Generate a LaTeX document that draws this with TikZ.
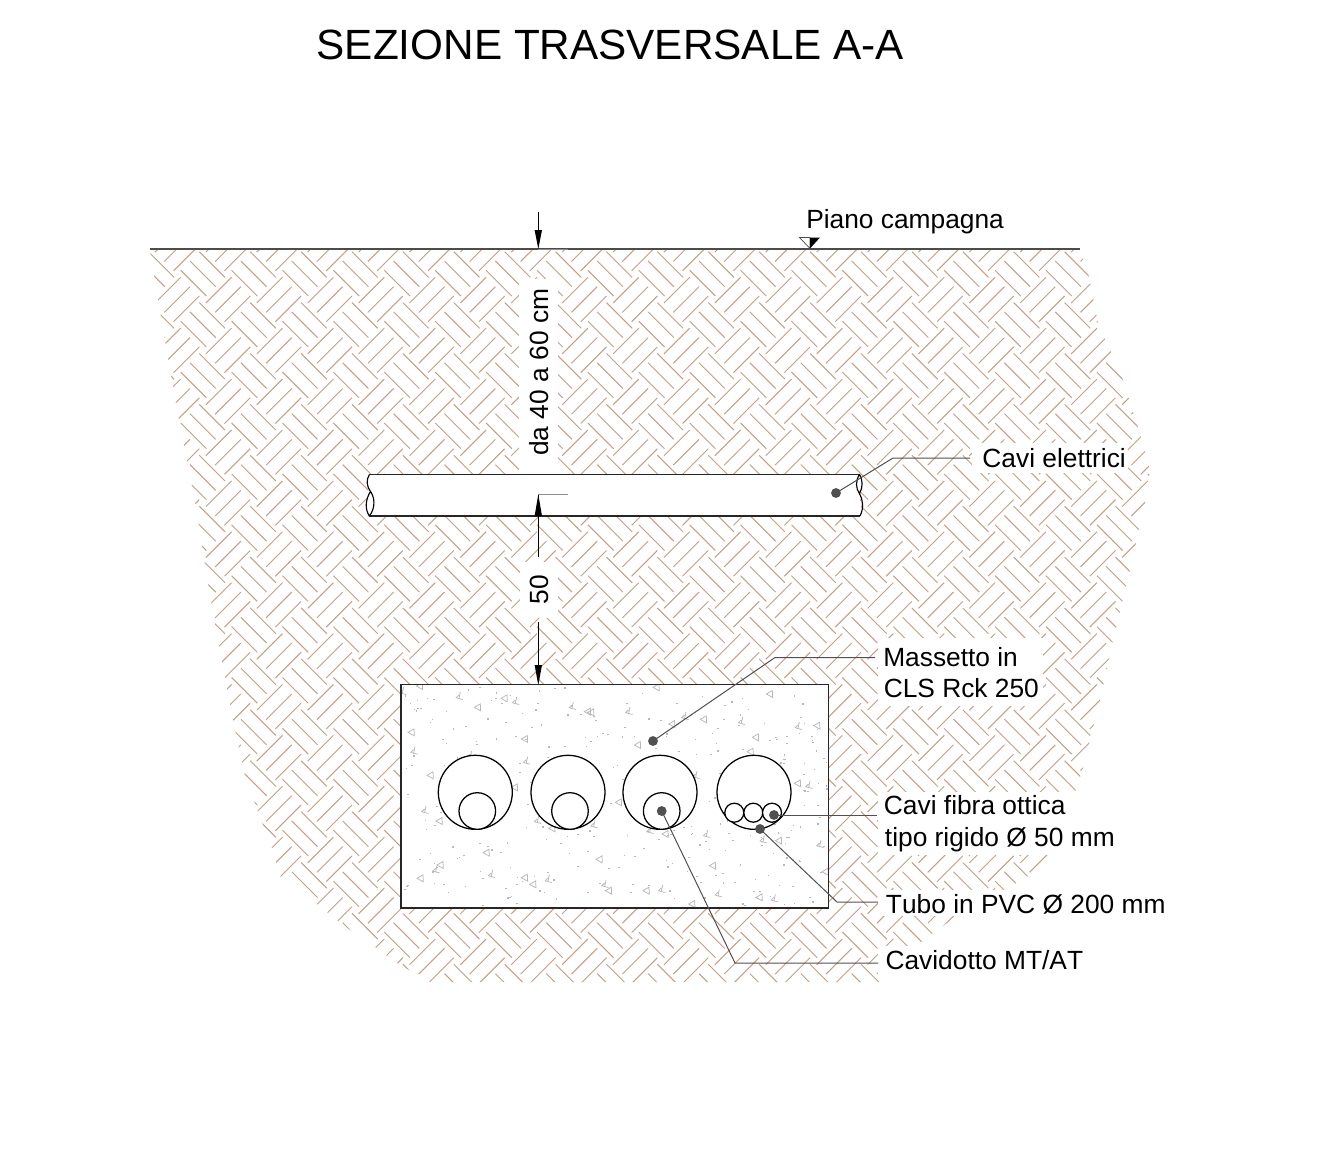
\documentclass[tikz,border=0pt]{standalone}
\usepackage{fontspec}
\setmainfont[Kerning=Off]{Liberation Sans}
\definecolor{hatchc}{HTML}{C69D85}
\definecolor{leadc}{HTML}{505050}
\definecolor{concc}{HTML}{B8B8B8}
\tikzset{
  hatchline/.style={draw=hatchc,line width=0.72pt},
  maskbox/.style={fill=white,draw=none},
  leader/.style={draw=leadc,line width=0.75pt},
  leaderdot/.style={circle,fill=leadc,draw=none,minimum size=7.4pt,inner sep=0pt},
  labeltext/.style={anchor=base west,inner sep=0pt,font=\fontsize{19.75}{23}\selectfont,text=black},
  dimtext/.style={anchor=base west,inner sep=0pt,rotate=90,font=\fontsize{19.75}{23}\selectfont,text=black},
  outline/.style={draw=black!85,line width=1pt},
  tube/.style={draw=black,line width=0.95pt,fill=white},
  conc/.style={draw=concc,line width=0.55pt},
  dimline/.style={draw=black,line width=0.75pt},
  dimhead/.style={fill=black,draw=none},
  exten/.style={draw=black!45,line width=0.75pt}
}
\begin{document}
\begin{tikzpicture}[x=0.75pt,y=-0.75pt]
\useasboundingbox (0,0) rectangle (1322,1154);
\fill[white] (0,0) rectangle (1322,1154);
% ---- soil hatch
\begin{scope}
\clip plot[smooth,tension=0.35] coordinates {(150,250) (158,299) (168,358) (179,420) (195,502) (211,601) (227,688) (245,775) (272,848)}
  -- (280,876) -- (317,904) -- (343,925) -- (375,947) -- (397,963) -- (430,982) -- (880,982) -- (880,973) -- (933,933) -- (947,923) -- (1030,875) -- (1047,857) -- (1065,848) -- (1070,807) -- (1083,768) -- (1100,700) -- (1113,640) -- (1127,583) -- (1145,503) -- (1150,470) -- (1141,437) -- (1122,377) -- (1098,323) -- (1088,272) -- (1080,250) -- cycle;
\draw[hatchline] foreach \i in {-2,...,20} { foreach \j in {-1,...,15} {
   ({\i*50.9+199.3},{\j*50.9+251.7}) -- ++(25.7,25.7)
   ({\i*50.9+190.0},{\j*50.9+261.0}) -- ++(25.7,25.7)
   ({\i*50.9+180.7},{\j*50.9+270.3}) -- ++(25.7,25.7)
   ({\i*50.9+180.7},{\j*50.9+277.3}) -- ++(-25.7,25.7)
   ({\i*50.9+190.0},{\j*50.9+286.7}) -- ++(-25.7,25.7)
   ({\i*50.9+199.3},{\j*50.9+296.0}) -- ++(-25.7,25.7)
}};
\end{scope}
% ---- wipeouts behind the texts
\path[maskbox] (519,279) rectangle (558,474);
\path[maskbox] (520,562) rectangle (558,618);
\path[maskbox] (972,443) rectangle (1128,473);
\path[maskbox] (878,638) rectangle (1043,706);
\path[maskbox] (878,792) rectangle (1118,855);
\path[maskbox] (878,890) rectangle (1168,916);
\path[maskbox] (878,946) rectangle (1087,976);
% ---- ground line
\draw[draw=black!70,line width=0.95pt] (150,249) -- (1080,249);
\draw[exten] (538,249) -- (568,249);
% ---- level mark
\coordinate (lvlL) at (799.5,237.5);
\coordinate (lvlM) at (810,237.5);
\coordinate (lvlR) at (820,237.5);
\coordinate (lvlT) at (810,248.5);
\draw[draw=black!70,line width=0.55pt,fill=white] (lvlL) -- (lvlM) -- (lvlT) -- cycle;
\fill[black] (lvlM) -- (lvlR) -- (lvlT) -- cycle;
% ---- cable pipe
\path[fill=white] (369.5,474.3) -- (860,474.3) -- (860,516) -- (369.5,516) -- cycle;
\draw[outline] (369.5,474.3) -- (859.5,474.3);
\draw[outline] (369.5,516) -- (860,516);
\draw[draw=black,line width=0.85pt,fill=white]
   (369.5,474.3) .. controls (366,480) and (366.5,486) .. (370.5,491.5)
   .. controls (374.5,497) and (376,507) .. (369.5,516)
   .. controls (365,510) and (365,500) .. (370.5,491.5);
\draw[draw=black,line width=0.85pt,fill=white]
   (859.5,474.3) .. controls (855.5,481) and (855.5,488) .. (859.5,493.5)
   .. controls (863,487) and (863,481) .. (859.5,474.3);
\draw[draw=black,line width=0.85pt]
   (859.5,493.5) .. controls (863,500) and (864,508) .. (860,516);
% ---- concrete block
\path[fill=white] (401,684.5) rectangle (828.5,908);
\begin{scope}
\clip (401,684.5) rectangle (828.5,908);
\pgfmathsetseed{4711}
\foreach \n in {1,...,330} {
  \pgfmathsetmacro{\dx}{403+rnd*424}
  \pgfmathsetmacro{\dy}{687+rnd*220}
  \fill[concc] (\dx,\dy) rectangle ++(1.6,1.2);
}
\foreach \zx/\zy in {58/18,768/22,1108/42,312/55,232/82,562/95,572/97,815/132,910/118,33/157,373/177,1250/137,1066/172,712/195,1050/215,90/286,343/322,655/367,1192/310,117/423,455/445,795/462,1135/482,258/518,597/538,120/555,937/557,1275/575,60/595,373/593,398/613,625/632,738/632,875/672,1077/652} {
  \draw[conc] ({400+\zx/3-3},{680+\zy/3}) -- ++(6,-3.5) -- ++(0.3,7) -- cycle;
}
\foreach \zx/\zy in {8/33,178/48,347/63,517/78,687/93,855/108,1025/123,1195/138,42/212,212/225,380/242,888/285,1227/315,75/390,413/420,582/433,750/450,920/462,1090/478,1260/492,108/568,275/582,445/597,615/612,785/627,955/640,1123/655} {
  \draw[conc] ({400+\zx/3+1},{680+\zy/3-4}) -- ++(-1.5,7) ({400+\zx/3-2.5},{680+\zy/3+2}) -- ++(6,1.5) ({400+\zx/3-0.5},{680+\zy/3-1}) -- ++(-3,3);
}
\end{scope}
\draw[outline] (401,684.5) rectangle (828.5,908);
% ---- conduits
\draw[tube] (475.3,792.3) circle (37);
\draw[tube] (477.3,811) circle (18.3);
\draw[tube] (568,792.3) circle (37);
\draw[tube] (570,811) circle (18.3);
\draw[tube] (660,792.3) circle (37);
\draw[tube] (661.7,811) circle (18.3);
\draw[tube] (754,792.3) circle (37);
\draw[tube] (734.3,812.7) circle (9.5);
\draw[tube] (753.3,812.7) circle (9.5);
\draw[tube] (772,812.7) circle (9.5);
% ---- dimensions
\coordinate (dimA1) at (538.3,212);
\coordinate (dimA2) at (538.3,232);
\coordinate (dimB0) at (538.3,494.5);
\coordinate (dimB1) at (538.3,557);
\coordinate (dimC0) at (538.3,622);
\coordinate (dimC1) at (538.3,666);
\draw[dimline] (dimA1) -- (dimA2);
\draw[dimline] (dimB0) -- (dimB1);
\draw[dimline] (dimC0) -- (dimC1);
\fill[dimhead] (538.3,249) -- (534.6,230) -- (542,230) -- cycle;
\fill[dimhead] (538.3,494.5) -- (534.6,516) -- (542,516) -- cycle;
\fill[dimhead] (538.3,685) -- (534.6,665) -- (542,665) -- cycle;
\draw[exten] (dimB0) -- (568,494.5);
\node[dimtext] (dimtop) at (548.5,456) {da 40 a 60 cm};
\node[dimtext] (dimmid) at (548.5,604.5) {50};
% ---- title and labels
\node[anchor=base west,inner sep=0pt,font=\fontsize{31.7}{36}\selectfont] (title) at (316.5,59.2) {SEZIONE TRASVERSALE A-A};
\node[labeltext] (piano) at (806,228) {Piano campagna};
\node[labeltext] (lelet) at (982.2,467) {Cavi elettrici};
\node[labeltext] (lmass) at (883,666.2) {Massetto in};
\node[labeltext] (lcls) at (883.5,697.2) {CLS Rck 250};
\node[labeltext] (lfib) at (883.7,814.4) {Cavi fibra ottica};
\node[labeltext] (lrig) at (884.7,846.2) {tipo rigido Ø 50 mm};
\node[labeltext] (ltub) at (885.7,913.2) {Tubo in PVC Ø 200 mm};
\node[labeltext] (lcav) at (885.3,969) {Cavidotto MT/AT};
% ---- leaders
\node[leaderdot] (dele) at (836,493) {};
\node[leaderdot] (dmas) at (653,741) {};
\node[leaderdot] (dfib) at (774,815) {};
\node[leaderdot] (dtub) at (760,829) {};
\node[leaderdot] (dcav) at (661.7,811) {};
\coordinate (eele) at (893,458);
\coordinate (fele) at (970,458);
\coordinate (emas) at (775,657.5);
\coordinate (fmas) at (875,657.5);
\coordinate (ffib) at (877,815);
\coordinate (etub) at (837,902);
\coordinate (ftub) at (878,902);
\coordinate (ecav) at (735,963);
\coordinate (fcav) at (878,963);
\draw[leader] (dele.center) -- (eele) -- (fele);
\draw[leader] (dmas.center) -- (emas) -- (fmas);
\draw[leader] (dfib.center) -- (ffib);
\draw[leader] (dtub.center) -- (etub) -- (ftub);
\draw[leader] (dcav.center) -- (ecav) -- (fcav);
\end{tikzpicture}
\end{document}
